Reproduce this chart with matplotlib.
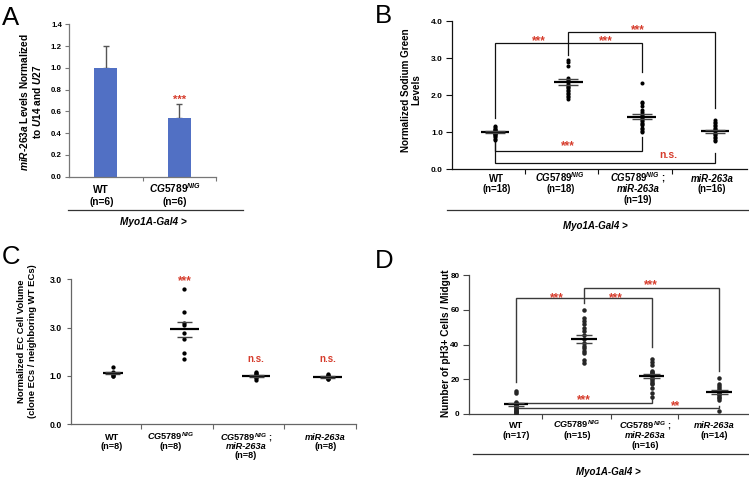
import matplotlib
matplotlib.use('Agg')
import matplotlib.pyplot as plt
import matplotlib.transforms as mtrans
from matplotlib.lines import Line2D
import numpy as np

plt.rcParams['font.family'] = ['Liberation Sans', 'DejaVu Sans']
plt.rcParams['font.weight'] = 'bold'
plt.rcParams['mathtext.fontset'] = 'custom'
plt.rcParams['mathtext.rm'] = 'Liberation Sans:bold'
plt.rcParams['mathtext.it'] = 'Liberation Sans:italic:bold'
plt.rcParams['mathtext.bf'] = 'Liberation Sans:bold'

# ---------------- data ----------------
CG = r'$\mathit{CG5789}^{\mathit{NIG}}$'
CGs = r'$\mathit{CG5789}^{\mathit{NIG}}\ ;$'
MIR = 'miR-263a'

# Panel A
A_labels = ['WT', CG]
A_n = ['(n=6)', '(n=6)']
A_values = [1.00, 0.54]
A_err = [0.20, 0.13]
A_ticks = [0.0, 0.2, 0.4, 0.6, 0.8, 1.0, 1.2, 1.4]
A_ticklabels = ['0.0', '0.2', '0.4', '0.6', '0.8', '1.0', '1.2', '1.4']

# Panel B
B_n = ['(n=18)', '(n=18)', '(n=19)', '(n=16)']
B_wt = [1.16, 1.13, 1.10, 1.08, 1.06, 1.04, 1.02, 1.01, 1.00, 0.99, 0.98, 0.96, 0.94, 0.92, 0.90, 0.86, 0.82, 0.79]
B_cg = [2.96, 2.90, 2.78, 2.45, 2.42, 2.38, 2.35, 2.30, 2.26, 2.22, 2.18, 2.14, 2.10, 2.06, 2.02, 1.98, 1.94, 1.90]
B_cgmir = [2.33, 1.82, 1.78, 1.72, 1.60, 1.55, 1.50, 1.46, 1.42, 1.38, 1.34, 1.30, 1.26, 1.22, 1.19, 1.12, 1.08, 1.04, 1.01]
B_mir = [1.32, 1.28, 1.24, 1.20, 1.16, 1.12, 1.08, 1.05, 1.02, 0.99, 0.96, 0.92, 0.88, 0.84, 0.80, 0.76]
B_mean = [1.00, 2.36, 1.42, 1.03]
B_sem = [0.03, 0.08, 0.07, 0.04]
B_ticks = [0, 1, 2, 3, 4]
B_ticklabels = ['0.0', '1.0', '2.0', '3.0', '4.0']
# brackets: (x1, x2, top, leg1 bottom, leg2 bottom)
B_brackets = [(0, 2, 3.40, 1.38, 2.63), (1, 3, 3.71, 3.08, 1.64),
              (0, 2, 0.49, 0.80, 0.88), (0, 3, 0.16, 0.80, 0.44)]
# significance marks: (x, y, text)
B_marks = [(0.60, 3.55, '***'), (1.51, 3.55, '***'), (1.95, 3.87, '***'),
           (1.00, 0.72, '***'), (2.37, 0.37, 'n.s.')]

# Panel C
C_n = ['(n=8)', '(n=8)', '(n=8)', '(n=8)']
C_wt = [1.19, 1.07, 1.06, 1.05, 1.04, 1.03, 1.00, 0.99]
C_cg = [2.79, 2.33, 2.09, 2.05, 1.88, 1.76, 1.47, 1.35]
C_cgmir = [1.08, 1.06, 1.04, 1.02, 1.00, 0.98, 0.95, 0.92]
C_mir = [1.03, 1.01, 1.00, 0.99, 0.97, 0.96, 0.94, 0.93]
C_mean = [1.06, 1.96, 1.00, 0.975]
C_sem = [0.02, 0.165, 0.02, 0.015]
C_ticks = [0, 1, 2, 3]
C_ticklabels = ['0.0', '1.0', '3.0', '3.0']
C_marks = [(1, 3.05, '***'), (2, 1.33, 'n.s.'), (3, 1.33, 'n.s.')]

# Panel D
D_n = ['(n=17)', '(n=15)', '(n=16)', '(n=14)']
D_wt = [13, 12, 7, 6.5, 6, 5, 5, 4, 4, 3, 3, 2, 2, 1, 1, 0, 0]
D_cg = [60, 55, 53.5, 52, 49.5, 47.5, 45.5, 43, 41, 39, 38, 36.5, 35, 31, 29.5]
D_cgmir = [31.5, 30, 28, 25, 24, 23.5, 23, 22, 21, 20, 19, 18, 17, 15, 12, 10]
D_mir = [21, 17, 16, 15, 14, 13, 12.5, 12, 11.5, 11, 10, 9, 8, 2]
D_mean = [5.6, 43.2, 22.0, 12.7]
D_sem = [1.0, 2.4, 1.1, 1.3]
D_ticks = [0, 20, 40, 60, 80]
D_ticklabels = ['0', '20', '40', '60', '80']
D_brackets = [(0, 2, 66.6, 18.5, 38.5), (1, 3, 72.3, 63.7, 25.0),
              (0, 2, 6.5, 6.5, 10.0), (0, 3, 3.3, 3.3, 4.8)]
D_marks = [(0.61, 68.9, '***'), (1.47, 68.9, '***'), (1.99, 76.1, '***'),
           (1.00, 10.0, '***'), (2.35, 6.5, '**')]

# ---------------- style ----------------
RED = '#D63C2C'
BAR = '#5170C4'
W, H = 749, 480
fig = plt.figure(figsize=(W / 100, H / 100), dpi=100)


def fy(py):
    return 1 - py / H


def px_axes(l, r, b, t):
    return fig.add_axes([l / W, 1 - b / H, (r - l) / W, (b - t) / H])


def style_axes(ax, spine_color, ytick_len, ypad, tick_fs, xminor, xtick_len=3.6):
    for s in ['top', 'right']:
        ax.spines[s].set_visible(False)
    for s in ['left', 'bottom']:
        ax.spines[s].set_color(spine_color)
        ax.spines[s].set_linewidth(0.9)
    ax.tick_params(axis='y', direction='out', length=ytick_len, width=0.8,
                   color=spine_color, pad=ypad, labelsize=tick_fs)
    ax.set_xticks([])
    ax.set_xticks(xminor, minor=True)
    ax.tick_params(axis='x', which='minor', direction='out', length=xtick_len,
                   width=0.8, color=spine_color)
    for lab in ax.get_yticklabels():
        lab.set_fontweight('bold')


def cat_labels(ax, xs, lines_list, axis_py, off1, spacing, fs):
    tr = mtrans.blended_transform_factory(ax.transData, fig.transFigure)
    for x, lines in zip(xs, lines_list):
        for k, (s, italic) in enumerate(lines):
            ax.text(x, fy(axis_py + off1 + k * spacing), s, transform=tr,
                    ha='center', va='baseline', fontsize=fs, fontweight='bold',
                    fontstyle='italic' if italic else 'normal')


def mark(ax, x, y, s, fs_star=8.5, fs_ns=7.5, color=RED):
    if '*' in s:
        fs, off = fs_star, -0.58 * fs_star
    else:
        fs, off = fs_ns, -0.26 * fs_ns
    ax.annotate(s, xy=(x, y), xytext=(0, off), textcoords='offset points',
                ha='center', va='baseline', fontsize=fs, fontweight='bold',
                color=color, annotation_clip=False)


def dots(ax, groups, means, sems, s, color, hw_mean, hw_sem, mean_lw=1.6, sem_color='#444444'):
    for i, vals in enumerate(groups):
        ax.scatter(np.full(len(vals), i), vals, s=s, color=color, zorder=3, linewidths=0)
        hm = hw_mean[i]
        ax.hlines(means[i], i - hm, i + hm, color='black', lw=mean_lw, zorder=4)
        ax.hlines([means[i] - sems[i], means[i] + sems[i]], i - hw_sem, i + hw_sem,
                  color=sem_color, lw=1.0, zorder=4)


def brackets(ax, brs, color, lw):
    for x1, x2, top, b1, b2 in brs:
        ax.plot([x1, x1, x2, x2], [b1, top, top, b2], color=color, lw=lw,
                zorder=2, solid_joinstyle='miter')


def under_line(x1, x2, py, text, tx, ty, fs=7):
    fig.add_artist(Line2D([x1 / W, x2 / W], [fy(py), fy(py)], color='#333333', lw=0.9))
    fig.text(tx / W, fy(ty), text, ha='center', va='center', fontsize=fs,
             fontweight='bold', fontstyle='italic')


# ---------------- Panel A ----------------
axA = px_axes(69, 216, 176.7, 24.3)
axA.set_xlim(-0.5, 1.5)
axA.set_ylim(0, 1.4)
xA = np.arange(len(A_values))
axA.bar(xA, A_values, width=0.31, color=BAR, zorder=2)
axA.errorbar(xA, A_values, yerr=[np.zeros(len(A_err)), A_err], fmt='none',
             ecolor='#555555', elinewidth=1.0, capsize=2, capthick=1.0, zorder=1)
axA.set_yticks(A_ticks)
axA.set_yticklabels(A_ticklabels)
style_axes(axA, '#777777', 2.7, 2.4, 5.7, [0.5, 1.5], xtick_len=3)
mark(axA, 1, 0.735, '***', fs_star=8)
cat_labels(axA, [x - 0.06 for x in xA],
           [[(A_labels[i], False), (A_n[i], False)] for i in range(2)],
           176.7, 16.6, 11.5, 7.3)
fig.text(30.5 / W, fy(101.7),
         r'$\mathit{miR}$-$\mathit{263a}$ Levels Normalized' + '\n' +
         r'to $\mathit{U14}$ and $\mathit{U27}$',
         rotation=90, ha='center', va='center', fontsize=7.3, fontweight='bold',
         multialignment='center', linespacing=1.15)
under_line(68, 243, 210, 'Myo1A-Gal4 >', 153, 221.7, fs=7.2)

# ---------------- Panel B ----------------
axB = px_axes(452, 746.7, 169.3, 21)
axB.set_xlim(-0.587, 3.434)
axB.set_ylim(0, 4)
axB.set_yticks(B_ticks)
axB.set_yticklabels(B_ticklabels)
style_axes(axB, '#111111', 4.5, 2.0, 6.0, [0.41, 1.41, 2.41])
brackets(axB, B_brackets, '#111111', 0.9)
dots(axB, [B_wt, B_cg, B_cgmir, B_mir], B_mean, B_sem, 8.5, '#000000',
     [0.195] * 4, 0.137)
for x, y, s in B_marks:
    mark(axB, x, y, s)
B_off = [0.02, -0.11, -0.05, -0.04]
cat_labels(axB, [i + B_off[i] for i in range(4)],
           [[('WT', False), (B_n[0], False)],
            [(CG, False), (B_n[1], False)],
            [(CGs, False), (MIR, True), (B_n[2], False)],
            [(MIR, True), (B_n[3], False)]],
           169.3, 12.4, 10.6, 6.9)
fig.text(411 / W, fy(90), 'Normalized Sodium Green\nLevels', rotation=90,
         ha='center', va='center', fontsize=7.1, fontweight='bold',
         multialignment='center', linespacing=1.05)
under_line(446.7, 749, 210, 'Myo1A-Gal4 >', 595, 226)

# ---------------- Panel C ----------------
axC = px_axes(71, 356, 424, 279.3)
axC.set_xlim(-0.582, 3.393)
axC.set_ylim(0, 3)
axC.set_yticks(C_ticks)
axC.set_yticklabels(C_ticklabels)
style_axes(axC, '#666666', 3.2, 3.2, 6.2, [0.395, 1.395, 2.395, 3.393])
dots(axC, [C_wt, C_cg, C_cgmir, C_mir], C_mean, C_sem, 9.5, '#000000',
     [0.14, 0.2, 0.2, 0.2], 0.105)
for x, y, s in C_marks:
    mark(axC, x, y, s, fs_ns=7)
C_off = [-0.01, -0.19, -0.14, -0.03]
cat_labels(axC, [i + C_off[i] for i in range(4)],
           [[('WT', False), (C_n[0], False)],
            [(CG, False), (C_n[1], False)],
            [(CGs, False), (MIR, True), (C_n[2], False)],
            [(MIR, True), (C_n[3], False)]],
           424, 16.3, 9.0, 6.6)
fig.text(27 / W, fy(341), 'Normalized EC Cell Volume\n(clone ECs / neighboring WT ECs)',
         rotation=90, ha='center', va='center', fontsize=6.8, fontweight='bold',
         multialignment='center', linespacing=1.2)

# ---------------- Panel D ----------------
axD = px_axes(469.3, 749, 414, 275)
axD.set_xlim(-0.689, 3.437)
axD.set_ylim(0, 80)
axD.set_yticks(D_ticks)
axD.set_yticklabels(D_ticklabels)
style_axes(axD, '#444444', 4.3, 2.8, 5.9, [0.38, 1.40, 2.39])
brackets(axD, D_brackets, '#3a3a3a', 1.0)
dots(axD, [D_wt, D_cg, D_cgmir, D_mir], D_mean, D_sem, 10.5, '#262626',
     [0.17, 0.19, 0.19, 0.19], 0.12)
for x, y, s in D_marks:
    mark(axD, x, y, s)
D_off = [0.0, -0.10, -0.10, -0.08]
cat_labels(axD, [i + D_off[i] for i in range(4)],
           [[('WT', False), (D_n[0], False)],
            [(CG, False), (D_n[1], False)],
            [(CGs, False), (MIR, True), (D_n[2], False)],
            [(MIR, True), (D_n[3], False)]],
           414, 14.3, 10.0, 6.6)
fig.text(446 / W, fy(343), 'Number of pH3+ Cells / Midgut', rotation=90,
         ha='center', va='center', fontsize=7.3, fontweight='bold')
under_line(473, 749, 454.3, 'Myo1A-Gal4 >', 608, 471.7)

# ---------------- panel letters ----------------
for s, x, y in [('A', 2, 25), ('B', 375, 23.3), ('C', 1.7, 264), ('D', 375, 268)]:
    fig.text(x / W, fy(y), s, fontsize=18.5, fontweight='normal', ha='left', va='baseline')

fig.savefig('out.png', dpi=100)
